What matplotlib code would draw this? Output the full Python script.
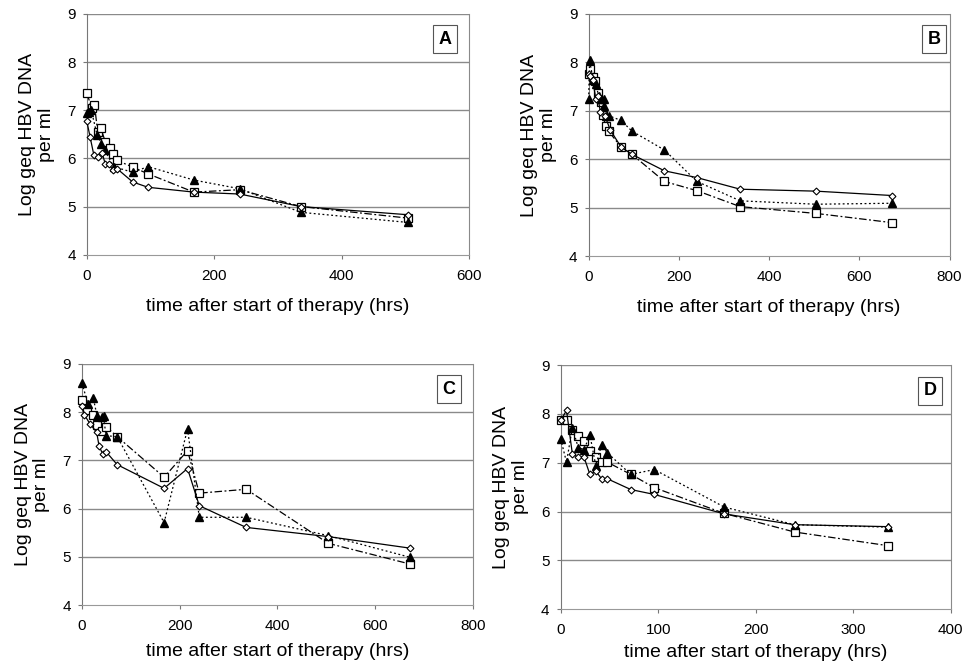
import matplotlib
matplotlib.use("Agg")
import matplotlib.pyplot as plt

plt.rcParams['font.family'] = ['Liberation Sans', 'DejaVu Sans']

# ---- Panel A ----
A_dia_x = [0, 5, 11, 17, 24, 29, 35, 41, 48, 72, 96, 168, 240, 336, 504]
A_dia_y = [6.77, 6.45, 6.07, 6.03, 6.11, 5.88, 5.88, 5.75, 5.78, 5.51, 5.40, 5.30, 5.26, 5.00, 4.83]
A_tri_x = [0, 3, 7, 16, 23, 28, 42, 72, 96, 168, 240, 336, 504]
A_tri_y = [6.94, 6.97, 7.00, 6.49, 6.30, 6.18, 5.83, 5.71, 5.83, 5.55, 5.37, 4.88, 4.67]
A_sq_x = [0, 8, 12, 17, 22, 29, 36, 41, 47, 72, 96, 168, 240, 336, 504]
A_sq_y = [7.35, 7.04, 7.11, 6.55, 6.63, 6.34, 6.21, 6.10, 5.96, 5.82, 5.68, 5.30, 5.35, 5.00, 4.76]

# ---- Panel B ----
B_dia_x = [0, 4, 9, 16, 20, 26, 36, 48, 72, 96, 168, 240, 336, 504, 672]
B_dia_y = [7.77, 7.72, 7.64, 7.24, 7.30, 6.98, 6.90, 6.60, 6.25, 6.10, 5.76, 5.62, 5.38, 5.34, 5.25]
B_tri_x = [0, 2, 10, 16, 22, 27, 33, 35, 38, 44, 72, 96, 168, 240, 336, 504, 672]
B_tri_y = [7.25, 8.04, 7.64, 7.55, 7.31, 7.24, 7.25, 7.10, 6.90, 6.90, 6.80, 6.58, 6.19, 5.54, 5.14, 5.07, 5.09]
B_sq_x = [0, 3, 9, 15, 21, 28, 31, 38, 44, 72, 96, 168, 240, 336, 504, 672]
B_sq_y = [7.77, 7.86, 7.70, 7.62, 7.37, 7.19, 6.91, 6.69, 6.58, 6.25, 6.10, 5.54, 5.35, 5.02, 4.88, 4.69]

# ---- Panel C ----
C_dia_x = [0, 5, 16, 30, 35, 42, 49, 72, 168, 216, 240, 336, 504, 672]
C_dia_y = [8.13, 7.94, 7.76, 7.58, 7.29, 7.14, 7.18, 6.91, 6.42, 6.83, 6.06, 5.61, 5.42, 5.18]
C_tri_x = [0, 12, 23, 31, 40, 44, 49, 72, 168, 216, 240, 336, 504, 672]
C_tri_y = [8.60, 8.17, 8.29, 7.91, 7.90, 7.92, 7.51, 7.49, 5.71, 7.65, 5.82, 5.82, 5.44, 4.99]
C_sq_x = [0, 11, 23, 30, 40, 49, 72, 168, 216, 240, 336, 504, 672]
C_sq_y = [8.24, 8.05, 7.94, 7.74, 7.60, 7.70, 7.49, 6.65, 7.20, 6.32, 6.40, 5.28, 4.85]

# ---- Panel D ----
D_dia_x = [0, 6, 12, 18, 24, 30, 36, 42, 48, 72, 96, 168, 240, 336]
D_dia_y = [7.87, 8.07, 7.18, 7.11, 7.11, 6.76, 6.83, 6.67, 6.67, 6.45, 6.35, 5.95, 5.73, 5.69]
D_tri_x = [0, 6, 12, 18, 24, 30, 36, 42, 48, 72, 96, 168, 240, 336]
D_tri_y = [7.49, 7.01, 7.72, 7.31, 7.27, 7.57, 6.94, 7.37, 7.20, 6.76, 6.86, 6.09, 5.73, 5.68]
D_sq_x = [0, 6, 12, 18, 24, 30, 36, 42, 48, 72, 96, 168, 240, 336]
D_sq_y = [7.87, 7.88, 7.66, 7.54, 7.44, 7.25, 7.11, 7.01, 7.01, 6.76, 6.49, 5.96, 5.58, 5.30]

panels = [
    ("A", [0.090, 0.617, 0.396, 0.362], 600, [0, 200, 400, 600],
     (A_dia_x, A_dia_y), (A_tri_x, A_tri_y), (A_sq_x, A_sq_y), 11, 0.955),
    ("B", [0.610, 0.615, 0.374, 0.364], 800, [0, 200, 400, 600, 800],
     (B_dia_x, B_dia_y), (B_tri_x, B_tri_y), (B_sq_x, B_sq_y), 11, 0.975),
    ("C", [0.085, 0.090, 0.405, 0.363], 800, [0, 200, 400, 600, 800],
     (C_dia_x, C_dia_y), (C_tri_x, C_tri_y), (C_sq_x, C_sq_y), 7, 0.955),
    ("D", [0.581, 0.084, 0.404, 0.367], 400, [0, 100, 200, 300, 400],
     (D_dia_x, D_dia_y), (D_tri_x, D_tri_y), (D_sq_x, D_sq_y), 5, 0.965),
]

fig = plt.figure(figsize=(9.65, 6.65), dpi=100)

for label, rect, xmax, xticks, dia, tri, sq, xpad, bx in panels:
    ax = fig.add_axes(rect)
    ax.set_xlim(0, xmax)
    ax.set_ylim(4, 9)
    ax.set_xticks(xticks)
    ax.set_yticks([4, 5, 6, 7, 8, 9])
    for yv in [5, 6, 7, 8, 9]:
        ax.axhline(yv, color='#8a8a8a', lw=1.0, zorder=0)
    ax.spines['top'].set_visible(False)
    ax.spines['right'].set_color('#8a8a8a')
    ax.spines['left'].set_color('#777777')
    ax.spines['bottom'].set_color('#999999')
    ax.tick_params(axis='both', labelsize=11, length=3, color='#777777')
    ax.tick_params(axis='x', pad=7)
    ax.tick_params(axis='y', pad=5)

    ax.plot(sq[0], sq[1], color='black', lw=0.9, ls=(0, (6, 2, 1.5, 2)),
            marker='s', ms=6, mfc='white', mec='black', mew=0.9, zorder=3, clip_on=False)
    ax.plot(tri[0], tri[1], color='black', lw=0.9, ls=(0, (1.5, 2)),
            marker='^', ms=5.5, mfc='black', mec='black', zorder=4, clip_on=False)
    ax.plot(dia[0], dia[1], color='black', lw=0.9, ls='-',
            marker='D', ms=3.5, mfc='white', mec='black', mew=0.8, zorder=5, clip_on=False)

    ax.set_xlabel("time after start of therapy (hrs)", fontsize=14, labelpad=xpad)
    ax.set_ylabel("Log geq HBV DNA\nper ml", fontsize=14, linespacing=1.1, labelpad=9)
    ax.text(bx, 0.93, label, transform=ax.transAxes, ha='right', va='top',
            fontsize=13, fontweight='bold',
            bbox=dict(boxstyle='square,pad=0.3', fc='white', ec='#555555', lw=0.8))

fig.savefig("out.png", dpi=100)
